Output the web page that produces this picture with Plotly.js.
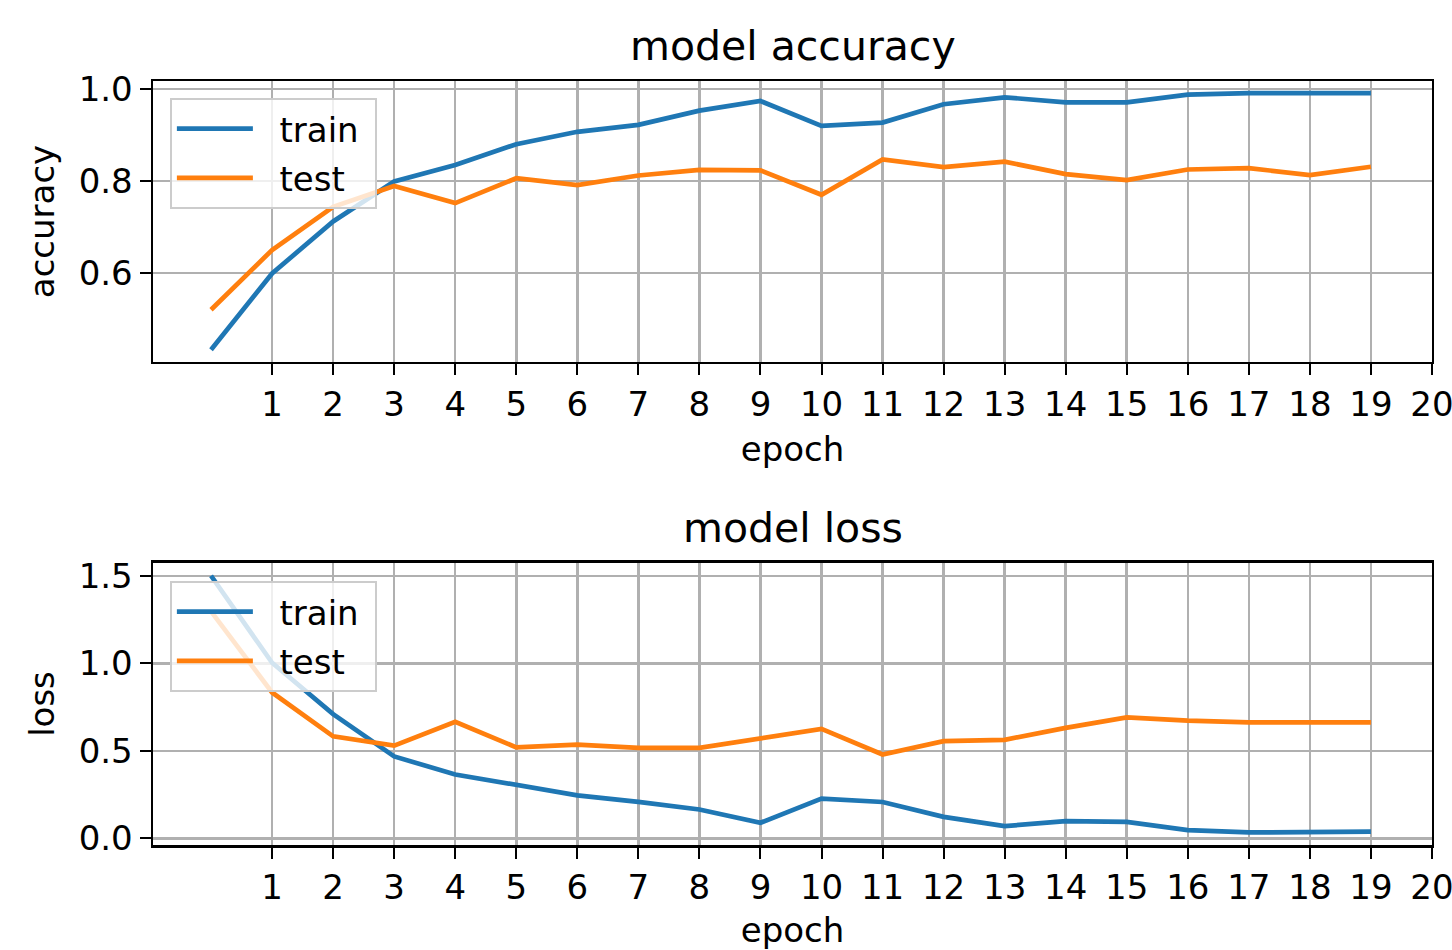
<!DOCTYPE html>
<html>
<head>
<meta charset="utf-8">
<script src="https://cdn.plot.ly/plotly-3.0.1.min.js"></script>
<style>html,body{margin:0;padding:0;background:#fff;}#chart{width:1452px;height:950px;}</style>
</head>
<body>
<div id="chart"></div>
<script>
const epochs = [0,1,2,3,4,5,6,7,8,9,10,11,12,13,14,15,16,17,18,19];
const accTrain = [0.433,0.599,0.712,0.799,0.835,0.880,0.907,0.922,0.953,0.974,0.920,0.927,0.967,0.982,0.971,0.971,0.988,0.991,0.991,0.991];
const accTest  = [0.520,0.650,0.744,0.789,0.752,0.806,0.791,0.812,0.824,0.823,0.770,0.847,0.830,0.842,0.815,0.802,0.825,0.828,0.813,0.831];
const lossTrain = [1.500,1.003,0.710,0.468,0.365,0.307,0.246,0.208,0.165,0.089,0.227,0.208,0.123,0.070,0.098,0.094,0.047,0.034,0.035,0.038];
const lossTest  = [1.297,0.833,0.583,0.530,0.666,0.520,0.536,0.517,0.517,0.574,0.625,0.479,0.555,0.563,0.631,0.691,0.672,0.663,0.663,0.663];
const xTicks = [1,2,3,4,5,6,7,8,9,10,11,12,13,14,15,16,17,18,19,20];
const accTicks = [0.6,0.8,1.0];
const lossTicks = [0.0,0.5,1.0,1.5];
const seriesNames = ['train', 'test'];

const FONT = 'DejaVu Sans, sans-serif';
const BLUE = '#1f77b4', ORANGE = '#ff7f0e';
const LW = 4.7;
const PAD = '\u00a0\u00a0';
const TAIL = '\u00a0';

const traces = [
  {x: epochs, y: accTrain, name: PAD + seriesNames[0] + TAIL, legendgroup: 'a1', mode: 'lines', line: {color: BLUE, width: LW}, xaxis: 'x', yaxis: 'y', legend: 'legend'},
  {x: epochs, y: accTest, name: PAD + seriesNames[1], legendgroup: 'a2', mode: 'lines', line: {color: ORANGE, width: LW}, xaxis: 'x', yaxis: 'y', legend: 'legend'},
  {x: epochs, y: lossTrain, name: PAD + seriesNames[0] + TAIL, legendgroup: 'b1', mode: 'lines', line: {color: BLUE, width: LW}, xaxis: 'x2', yaxis: 'y2', legend: 'legend2'},
  {x: epochs, y: lossTest, name: PAD + seriesNames[1], legendgroup: 'b2', mode: 'lines', line: {color: ORANGE, width: LW}, xaxis: 'x2', yaxis: 'y2', legend: 'legend2'}
];

function xAxis(anchor) {
  return {
    domain: [0.1054, 0.9862], anchor: anchor,
    range: [-0.95, 20.0],
    tickmode: 'array', tickvals: xTicks, ticktext: xTicks.map(String),
    ticks: 'outside', ticklen: 11, tickwidth: 2, tickcolor: '#000',
    ticklabeloverflow: 'allow',
    showline: true, linewidth: 2.5, linecolor: '#000', mirror: true,
    showgrid: true, gridcolor: '#b0b0b0', gridwidth: 2.5, zeroline: false,
    tickfont: {family: FONT, size: 34, color: '#000'},
    title: {text: 'epoch', font: {family: FONT, size: 34, color: '#000'}, standoff: 14},
    automargin: false
  };
}
function yAxis(domain, range, ticks, label, anchor) {
  return {
    domain: domain, anchor: anchor, range: range,
    tickmode: 'array', tickvals: ticks, ticktext: ticks.map(v => v.toFixed(1)),
    ticks: 'outside', ticklen: 11, tickwidth: 2, tickcolor: '#000',
    showline: true, linewidth: 2.5, linecolor: '#000', mirror: true,
    showgrid: true, gridcolor: '#b0b0b0', gridwidth: 2.5, zeroline: false,
    tickfont: {family: FONT, size: 34, color: '#000'},
    title: {text: label, font: {family: FONT, size: 34, color: '#000'}, standoff: 14},
    automargin: false
  };
}

const legendStyle = {
  xref: 'paper', yref: 'paper', xanchor: 'left', yanchor: 'top',
  bgcolor: 'rgba(255,255,255,0.8)', bordercolor: '#cccccc', borderwidth: 2,
  font: {family: FONT, size: 34, color: '#000'},
  itemwidth: 76, tracegroupgap: 2
};

const layout = {
  width: 1452, height: 950,
  margin: {l: 0, r: 0, t: 0, b: 0},
  paper_bgcolor: '#fff', plot_bgcolor: '#fff',
  font: {family: FONT, color: '#000'},
  xaxis: xAxis('y'),
  yaxis: yAxis([0.619, 0.9147], [0.4065, 1.0174], accTicks, 'accuracy', 'x'),
  xaxis2: xAxis('y2'),
  yaxis2: yAxis([0.1105, 0.4074], [-0.038, 1.573], lossTicks, 'loss', 'x2'),
  legend: Object.assign({x: 0.117, y: 0.8968}, legendStyle),
  legend2: Object.assign({x: 0.117, y: 0.3884}, legendStyle),
  annotations: [
    {text: 'model accuracy', xref: 'paper', yref: 'paper', x: 0.5458, y: 0.9516, xanchor: 'center', yanchor: 'middle', showarrow: false, font: {family: FONT, size: 41, color: '#000'}},
    {text: 'model loss', xref: 'paper', yref: 'paper', x: 0.5458, y: 0.4442, xanchor: 'center', yanchor: 'middle', showarrow: false, font: {family: FONT, size: 41, color: '#000'}}
  ],
  showlegend: true
};

Plotly.newPlot('chart', traces, layout, {displayModeBar: false, staticPlot: true});
</script>
</body>
</html>
